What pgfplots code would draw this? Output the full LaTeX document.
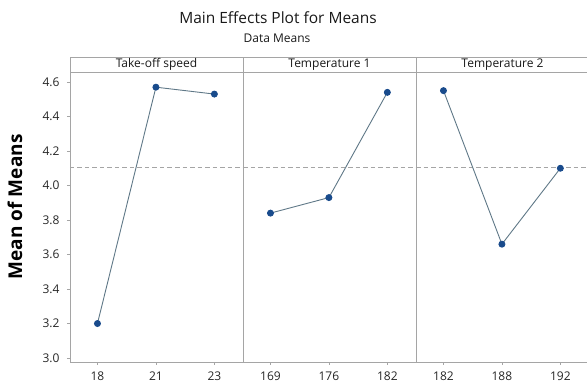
\documentclass[border=0pt]{standalone}
\usepackage{pgfplots}
\pgfplotsset{compat=1.18}
\usepackage{fontspec}
\setmainfont{Open Sans}
\definecolor{frame}{RGB}{165,165,165}
\definecolor{lnc}{RGB}{95,120,135}
\definecolor{mkc}{RGB}{25,75,140}
\tikzset{hdr/.style={draw=frame, line width=0.8pt},
  ml/.style={color=lnc, line width=0.9pt, mark=*, mark size=3pt, mark options={fill=mkc, draw=mkc}},
  mean/.style={color=frame, line width=0.8pt, mark=none, dash pattern=on 4.5pt off 3pt}}
\begin{document}
\begin{tikzpicture}
\path[use as bounding box] (0pt,0pt) rectangle (587pt,388pt);
\pgfplotsset{
  panel/.style={
    scale only axis, width=173pt, height=290pt,
    anchor=south west,
    xmin=-0.47, xmax=2.49,
    ymin=2.977, ymax=4.658,
    axis line style={frame, line width=0.8pt},
    xtick={0,1,2},
    tick style={frame, line width=0.6pt},
    major tick length=3pt,
    tick align=outside,
    xtick pos=bottom, ytick pos=left,
    ytick={3.0,3.2,3.4,3.6,3.8,4.0,4.2,4.4,4.6},
    yticklabel style={/pgf/number format/fixed,/pgf/number format/fixed zerofill,/pgf/number format/precision=1, xshift=-4pt},
    xticklabel style={yshift=-3.5pt},
    /pgf/number format/assume math mode=true,
    ticklabel style={font=\fontsize{12}{12}\selectfont, text=black!85},
    clip=false,
  },
}
% Panel 1
\begin{axis}[panel, at={(70pt,26pt)}, xticklabels={18,21,23},
  ylabel={\bfseries Mean of Means}, ylabel style={font=\fontsize{19}{20}\selectfont, text=black, anchor=south, at={(axis description cs:-0.255,0.535)}}]
\addplot[mean] coordinates {(-0.47,4.106) (2.49,4.106)};
\addplot[ml] coordinates {(0,3.20) (1,4.57) (2,4.53)};
\draw[hdr] (axis description cs:0,1) rectangle (axis description cs:1,1.0517);
\node[font=\fontsize{12}{12}\selectfont, text=black!90] at (axis description cs:0.5,1.0259) {Take-off speed};
\end{axis}
% Panel 2
\begin{axis}[panel, at={(243pt,26pt)}, xticklabels={169,176,182}, yticklabels={}, ytick style={draw=none}]
\addplot[mean] coordinates {(-0.47,4.106) (2.49,4.106)};
\addplot[ml] coordinates {(0,3.84) (1,3.93) (2,4.54)};
\draw[hdr] (axis description cs:0,1) rectangle (axis description cs:1,1.0517);
\node[font=\fontsize{12}{12}\selectfont, text=black!90] at (axis description cs:0.5,1.0259) {Temperature 1};
\end{axis}
% Panel 3
\begin{axis}[panel, at={(416pt,26pt)}, xticklabels={182,188,192}, yticklabels={}, ytick style={draw=none}]
\addplot[mean] coordinates {(-0.47,4.106) (2.49,4.106)};
\addplot[ml] coordinates {(0,4.55) (1,3.66) (2,4.10)};
\draw[hdr] (axis description cs:0,1) rectangle (axis description cs:1,1.0517);
\node[font=\fontsize{12}{12}\selectfont, text=black!90] at (axis description cs:0.5,1.0259) {Temperature 2};
\end{axis}
\node[font=\fontsize{15.5}{16}\selectfont, text=black!90] at (278pt,370pt) {Main Effects Plot for Means};
\node[font=\fontsize{12}{13}\selectfont, text=black!90] at (277pt,350pt) {Data Means};
\end{tikzpicture}
\end{document}
